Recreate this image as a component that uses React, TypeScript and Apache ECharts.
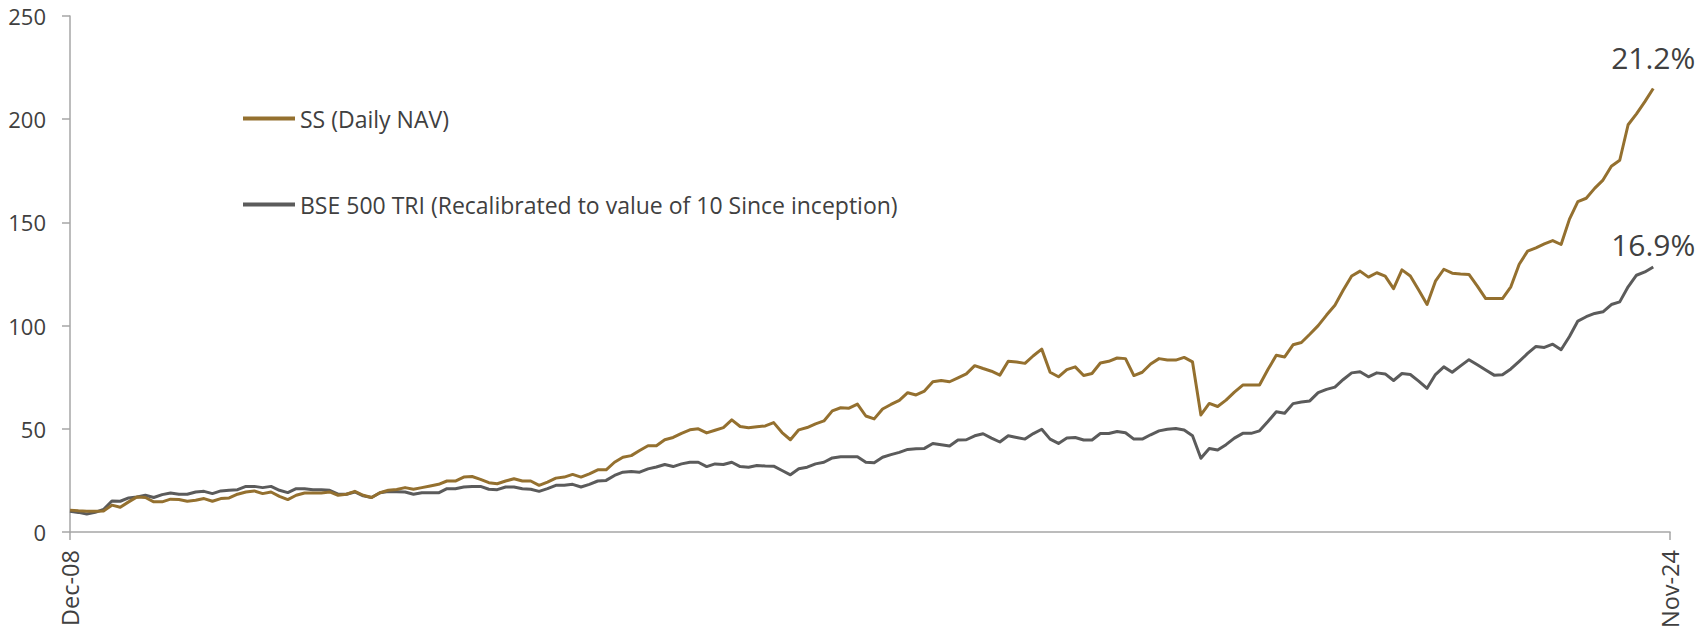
import React, { useEffect, useRef } from "react";
import * as echarts from "echarts";

const monthNames = ["Jan", "Feb", "Mar", "Apr", "May", "Jun", "Jul", "Aug", "Sep", "Oct", "Nov", "Dec"];
// Monthly categories Dec-08 .. Nov-24
const categories: string[] = [];
for (let y = 2008, m = 11; y < 2024 || (y === 2024 && m <= 10); ) {
  categories.push(`${monthNames[m]}-${String(y % 100).padStart(2, "0")}`);
  m++;
  if (m === 12) { m = 0; y++; }
}

const seriesNames = ["SS (Daily NAV)", "BSE 500 TRI (Recalibrated to value of 10 Since inception)"];
const endLabels = ["21.2%", "16.9%"];

const ssValues = [
  10.6, 10.3, 10.1, 10.1, 10.2, 13.0, 12.0, 14.6, 17.0, 16.7,
  14.6, 14.6, 15.9, 15.7, 14.9, 15.4, 16.2, 14.9, 16.2, 16.5,
  18.3, 19.4, 19.9, 18.6, 19.4, 17.3, 15.7, 17.8, 18.9, 18.9,
  18.9, 19.4, 17.8, 18.3, 19.7, 17.8, 16.7, 19.0, 20.2, 20.6,
  21.5, 20.7, 21.5, 22.3, 23.1, 24.7, 24.7, 26.6, 26.9, 25.5,
  23.9, 23.4, 24.7, 25.8, 24.7, 24.7, 22.6, 24.2, 26.1, 26.6,
  27.9, 26.6, 28.2, 30.1, 30.1, 33.8, 36.2, 37.0, 39.5, 41.8,
  41.8, 44.7, 45.8, 47.8, 49.5, 50.0, 48.0, 49.3, 50.6, 54.3,
  51.1, 50.5, 51.0, 51.4, 53.0, 48.2, 44.7, 49.5, 50.6, 52.4,
  53.8, 58.7, 60.2, 60.0, 62.0, 56.2, 54.8, 59.6, 61.8, 63.8,
  67.5, 66.4, 68.3, 72.8, 73.4, 72.8, 74.7, 76.6, 80.6, 79.2,
  77.9, 76.0, 82.7, 82.4, 81.7, 85.4, 88.6, 77.4, 75.2, 78.7,
  80.0, 75.8, 76.8, 81.9, 82.7, 84.3, 84.0, 75.8, 77.4, 81.4,
  84.0, 83.3, 83.3, 84.6, 82.4, 56.7, 62.3, 60.8, 63.9, 67.8,
  71.2, 71.2, 71.2, 78.7, 85.6, 84.8, 90.7, 91.8, 95.8, 100.0,
  105.1, 109.9, 117.2, 124.0, 126.4, 123.5, 125.6, 124.0, 117.9, 127.0,
  124.0, 117.2, 110.2, 121.5, 127.3, 125.4, 125.0, 124.8, 119.1, 113.1,
  113.1, 113.1, 118.8, 129.7, 136.1, 137.7, 139.6, 141.2, 139.3, 151.6,
  160.1, 161.7, 166.5, 170.5, 177.2, 180.1, 197.3, 202.6, 208.5, 214.9,
];

const bseValues = [
  10.1, 9.5, 8.7, 9.5, 10.9, 15.0, 14.9, 16.5, 17.0, 17.8,
  16.7, 18.1, 18.9, 18.3, 18.3, 19.4, 19.7, 18.6, 19.9, 20.2,
  20.5, 22.1, 22.1, 21.5, 22.1, 20.2, 19.1, 21.0, 21.0, 20.5,
  20.5, 20.2, 18.3, 18.3, 19.4, 17.5, 16.7, 19.0, 19.6, 19.5,
  19.4, 18.3, 19.0, 19.0, 19.0, 21.0, 21.0, 21.8, 22.0, 22.1,
  20.7, 20.5, 21.8, 21.8, 21.0, 20.7, 19.7, 21.0, 22.6, 22.6,
  23.1, 21.8, 23.1, 24.7, 25.0, 27.4, 29.0, 29.3, 29.0, 30.6,
  31.5, 32.7, 31.7, 33.0, 33.8, 33.8, 31.7, 33.0, 32.7, 33.8,
  31.7, 31.4, 32.2, 32.0, 31.9, 29.8, 27.7, 30.6, 31.4, 33.0,
  33.8, 35.9, 36.5, 36.5, 36.5, 33.8, 33.5, 36.2, 37.5, 38.6,
  40.0, 40.3, 40.5, 42.9, 42.3, 41.7, 44.6, 44.7, 46.6, 47.6,
  45.5, 43.6, 46.6, 45.8, 45.0, 47.7, 49.8, 45.0, 42.9, 45.5,
  45.8, 44.6, 44.6, 47.7, 47.7, 48.7, 48.1, 45.0, 45.0, 47.1,
  49.0, 49.8, 50.1, 49.4, 46.6, 35.7, 40.5, 39.7, 42.3, 45.5,
  47.8, 47.8, 49.0, 53.5, 58.3, 57.5, 62.2, 63.0, 63.5, 67.5,
  69.1, 70.2, 73.9, 77.1, 77.6, 75.2, 77.1, 76.6, 73.4, 76.8,
  76.3, 73.1, 69.6, 76.3, 80.0, 77.4, 80.5, 83.5, 81.0, 78.5,
  76.0, 76.2, 79.0, 82.7, 86.5, 89.9, 89.4, 91.0, 88.3, 94.7,
  102.2, 104.3, 105.9, 106.7, 110.2, 111.5, 118.8, 124.4, 126.0, 128.4,
];

const colors = ["#94702F", "#5B5B5B"];
const FONT = "'Open Sans', sans-serif";

function endMark(values: number[], text: string, dist: number) {
  const last = values.length - 1;
  return {
    symbol: "circle",
    symbolSize: 1,
    silent: true,
    itemStyle: { color: "rgba(0,0,0,0)" },
    label: {
      show: true,
      position: "top",
      distance: dist,
      formatter: text,
      fontSize: 30,
      lineHeight: 32,
      fontFamily: FONT,
      color: "#404040",
    },
    data: [{ coord: [last, values[last]] }],
  };
}

export default function App() {
  const ref = useRef<HTMLDivElement>(null);
  useEffect(() => {
    if (!ref.current) return;
    const chart = echarts.init(ref.current, undefined, { renderer: "svg" });
    const lastIdx = categories.length - 1;
    chart.setOption({
      animation: false,
      color: colors,
      grid: { left: 70, right: 36, top: 16, bottom: 102, containLabel: false },
      legend: {
        orient: "vertical",
        left: 238,
        top: 102,
        itemGap: 63,
        itemWidth: 52,
        itemHeight: 4,
        icon: "rect",
        textStyle: { fontSize: 23, fontFamily: FONT, color: "#404040" },
        data: seriesNames,
      },
      xAxis: {
        type: "category",
        boundaryGap: false,
        data: categories,
        axisLine: { show: true, lineStyle: { color: "#A6A6A6", width: 1.5 } },
        axisTick: {
          show: true,
          length: 8,
          interval: (i: number) => i === 0 || i === lastIdx,
          lineStyle: { color: "#A6A6A6", width: 1.5 },
        },
        axisLabel: {
          interval: (i: number) => i === 0 || i === lastIdx,
          rotate: 90,
          margin: 18,
          fontSize: 23.5,
          lineHeight: 24,
          fontFamily: FONT,
          color: "#404040",
        },
        splitLine: { show: false },
      },
      yAxis: {
        type: "value",
        min: 0,
        max: 250,
        interval: 50,
        axisLine: { show: true, lineStyle: { color: "#A6A6A6", width: 1.5 } },
        axisTick: { show: true, length: 8, lineStyle: { color: "#A6A6A6", width: 1.5 } },
        axisLabel: { margin: 24, fontSize: 22, lineHeight: 16, fontFamily: FONT, color: "#404040" },
        splitLine: { show: false },
      },
      series: [
        {
          name: seriesNames[0],
          type: "line",
          symbol: "none",
          data: ssValues,
          lineStyle: { width: 3, color: colors[0], join: "round" },
          itemStyle: { color: colors[0] },
          markPoint: endMark(ssValues, endLabels[0], 14),
          z: 3,
        },
        {
          name: seriesNames[1],
          type: "line",
          symbol: "none",
          data: bseValues,
          lineStyle: { width: 3, color: colors[1], join: "round" },
          itemStyle: { color: colors[1] },
          markPoint: endMark(bseValues, endLabels[1], 6),
          z: 2,
        },
      ],
    });
    return () => chart.dispose();
  }, []);
  return (
    <div
      ref={ref}
      style={{ position: "fixed", left: 0, top: 0, width: 1706, height: 634, background: "#fff" }}
    />
  );
}
